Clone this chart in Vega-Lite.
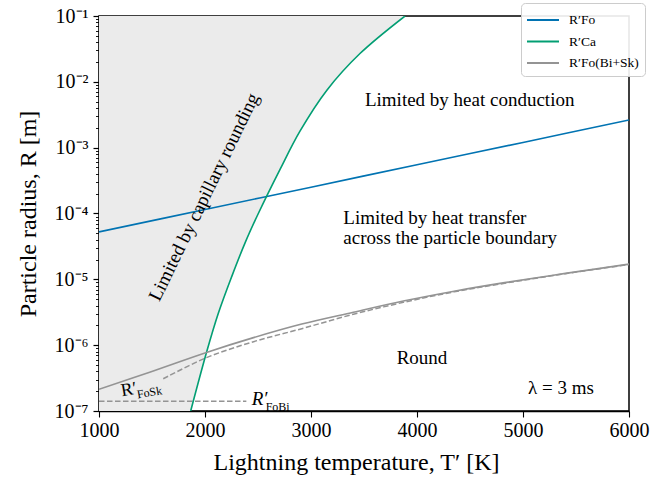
{
  "$schema": "https://vega.github.io/schema/vega-lite/v6.json",
  "width": 530,
  "height": 395,
  "autosize": {"type": "none"},
  "padding": {"left": 99, "top": 16, "right": 22, "bottom": 67},
  "background": "white",
  "config": {
    "font": "Liberation Serif",
    "view": {"stroke": "black", "strokeWidth": 1.5},
    "axis": {
      "grid": false,
      "domainColor": "black",
      "domainWidth": 1.5,
      "tickColor": "black",
      "tickWidth": 1.1,
      "labelColor": "black",
      "labelFont": "Liberation Serif",
      "labelFontSize": 20,
      "titleFont": "Liberation Serif",
      "titleFontSize": 24,
      "titleFontWeight": "normal",
      "titleColor": "black"
    },
    "text": {"font": "Liberation Serif", "fontSize": 19, "color": "black"}
  },
  "datasets": {
    "curves": [
      {"T": 1000, "R": 5.25e-5, "curve": "R′Fo"},
      {"T": 2000, "R": 1.15e-4, "curve": "R′Fo"},
      {"T": 3000, "R": 2.51e-4, "curve": "R′Fo"},
      {"T": 4000, "R": 5.50e-4, "curve": "R′Fo"},
      {"T": 5000, "R": 1.20e-3, "curve": "R′Fo"},
      {"T": 6000, "R": 2.63e-3, "curve": "R′Fo"},

      {"T": 1865, "R": 1.0e-7, "curve": "R′Ca"},
      {"T": 2016, "R": 7.94e-7, "curve": "R′Ca"},
      {"T": 2125, "R": 3.02e-6, "curve": "R′Ca"},
      {"T": 2252, "R": 1.10e-5, "curve": "R′Ca"},
      {"T": 2377, "R": 3.55e-5, "curve": "R′Ca"},
      {"T": 2503, "R": 1.0e-4, "curve": "R′Ca"},
      {"T": 2708, "R": 4.68e-4, "curve": "R′Ca"},
      {"T": 2896, "R": 1.78e-3, "curve": "R′Ca"},
      {"T": 3148, "R": 7.41e-3, "curve": "R′Ca"},
      {"T": 3462, "R": 2.69e-2, "curve": "R′Ca"},
      {"T": 3887, "R": 0.1, "curve": "R′Ca"},

      {"T": 1000, "R": 2.14e-7, "curve": "R′Fo(Bi+Sk)"},
      {"T": 1478, "R": 3.89e-7, "curve": "R′Fo(Bi+Sk)"},
      {"T": 2014, "R": 7.76e-7, "curve": "R′Fo(Bi+Sk)"},
      {"T": 2450, "R": 1.29e-6, "curve": "R′Fo(Bi+Sk)"},
      {"T": 2913, "R": 2.09e-6, "curve": "R′Fo(Bi+Sk)"},
      {"T": 3400, "R": 3.16e-6, "curve": "R′Fo(Bi+Sk)"},
      {"T": 3871, "R": 4.68e-6, "curve": "R′Fo(Bi+Sk)"},
      {"T": 4350, "R": 6.61e-6, "curve": "R′Fo(Bi+Sk)"},
      {"T": 4827, "R": 8.91e-6, "curve": "R′Fo(Bi+Sk)"},
      {"T": 5400, "R": 1.23e-5, "curve": "R′Fo(Bi+Sk)"},
      {"T": 6000, "R": 1.70e-5, "curve": "R′Fo(Bi+Sk)"},

      {"T": 1606, "R": 3.09e-7, "curve": "R′FoSk"},
      {"T": 2014, "R": 6.46e-7, "curve": "R′FoSk"},
      {"T": 2450, "R": 1.12e-6, "curve": "R′FoSk"},
      {"T": 2913, "R": 1.78e-6, "curve": "R′FoSk"},
      {"T": 3400, "R": 2.95e-6, "curve": "R′FoSk"},
      {"T": 3871, "R": 4.47e-6, "curve": "R′FoSk"},
      {"T": 4350, "R": 6.46e-6, "curve": "R′FoSk"},
      {"T": 4827, "R": 8.71e-6, "curve": "R′FoSk"},
      {"T": 5400, "R": 1.22e-5, "curve": "R′FoSk"},
      {"T": 6000, "R": 1.68e-5, "curve": "R′FoSk"},

      {"T": 1000, "R": 1.41e-7, "curve": "R′FoBi"},
      {"T": 2390, "R": 1.41e-7, "curve": "R′FoBi"}
    ],
    "notes": [
      {"T": 3509, "R": 5.3e-3, "text": "Limited by heat conduction"},
      {"T": 3305, "R": 8.5e-5, "text": "Limited by heat transfer"},
      {"T": 3305, "R": 4.2e-5, "text": "across the particle boundary"},
      {"T": 4047, "R": 6.4e-7, "text": "Round"},
      {"T": 5358, "R": 2.24e-7, "text": "λ = 3 ms"},
      {"T": 1991, "R": 1.78e-4, "text": "Limited by capillary rounding"}
    ],
    "curveLabels": [
      {"T": 2440, "R": 1.41e-7, "text": "R′", "sub": "FoBi"},
      {"T": 1217, "R": 1.68e-7, "text": "R′", "sub": "FoSk"}
    ]
  },
  "encoding": {
    "x": {
      "field": "T",
      "type": "quantitative",
      "scale": {"domain": [1000, 6000], "nice": false, "zero": false},
      "axis": {
        "title": "Lightning temperature, T′ [K]",
        "values": [1000, 2000, 3000, 4000, 5000, 6000],
        "format": "d",
        "tickSize": 6,
        "labelPadding": 3,
        "labelFlush": false,
        "titleX": 257,
        "titleY": 58,
        "titleBaseline": "alphabetic"
      }
    },
    "y": {
      "field": "R",
      "type": "quantitative",
      "scale": {"type": "log", "domain": [1e-7, 0.1], "nice": false},
      "axis": {
        "title": "Particle radius, R [m]",
        "values": [1e-7, 2e-7, 3e-7, 4e-7, 5e-7, 6e-7, 7e-7, 8e-7, 9e-7,
                   1e-6, 2e-6, 3e-6, 4e-6, 5e-6, 6e-6, 7e-6, 8e-6, 9e-6,
                   1e-5, 2e-5, 3e-5, 4e-5, 5e-5, 6e-5, 7e-5, 8e-5, 9e-5,
                   1e-4, 2e-4, 3e-4, 4e-4, 5e-4, 6e-4, 7e-4, 8e-4, 9e-4,
                   1e-3, 2e-3, 3e-3, 4e-3, 5e-3, 6e-3, 7e-3, 8e-3, 9e-3,
                   1e-2, 2e-2, 3e-2, 4e-2, 5e-2, 6e-2, 7e-2, 8e-2, 9e-2,
                   1e-1],
        "labelExpr": "abs(log(datum.value)/LN10 - round(log(datum.value)/LN10)) < 0.001 ? '10⁻' + ['⁰','¹','²','³','⁴','⁵','⁶','⁷','⁸','⁹'][-round(log(datum.value)/LN10)] : ''",
        "labelOverlap": false,
        "labelFlush": false,
        "labelPadding": 5,
        "tickSize": {"condition": {"test": "abs(log(datum.value)/LN10 - round(log(datum.value)/LN10)) < 0.001", "value": 6}, "value": 3.5},
        "tickWidth": {"condition": {"test": "abs(log(datum.value)/LN10 - round(log(datum.value)/LN10)) < 0.001", "value": 1.2}, "value": 0.9},
        "titleX": -64,
        "titleY": 197.5,
        "titleBaseline": "alphabetic"
      }
    }
  },
  "layer": [
    {
      "data": {"name": "curves"},
      "transform": [{"filter": "datum.curve === 'R′Ca'"}],
      "mark": {"type": "area", "orient": "horizontal", "color": "#ebebeb", "interpolate": "catmull-rom", "clip": true},
      "encoding": {
        "x2": {"datum": 1000}
      }
    },
    {
      "data": {"name": "curves"},
      "transform": [{"filter": "datum.curve === 'R′FoSk' || datum.curve === 'R′FoBi'"}],
      "mark": {"type": "line", "color": "#949494", "strokeWidth": 1.5, "strokeDash": [5.5, 2.5], "interpolate": "catmull-rom", "clip": true},
      "encoding": {
        "detail": {"field": "curve"}
      }
    },
    {
      "data": {"name": "curves"},
      "transform": [{"filter": "datum.curve === 'R′Fo' || datum.curve === 'R′Ca' || datum.curve === 'R′Fo(Bi+Sk)'"}],
      "mark": {"type": "line", "strokeWidth": 1.6, "interpolate": "catmull-rom", "clip": true},
      "encoding": {
        "color": {
          "field": "curve",
          "type": "nominal",
          "scale": {"domain": ["R′Fo", "R′Ca", "R′Fo(Bi+Sk)"], "range": ["#0173b2", "#029e73", "#949494"]},
          "legend": {
            "title": null,
            "orient": "none",
            "legendX": 422,
            "legendY": -13,
            "symbolType": "M-1.6,0H1.6",
            "symbolSize": 400,
            "symbolStrokeWidth": 2,
            "symbolOffset": 5,
            "labelFont": "Liberation Serif",
            "labelFontSize": 13.5,
            "labelColor": "black",
            "labelOffset": 15,
            "rowPadding": 3.5,
            "padding": 6,
            "strokeColor": "#cccccc",
            "fillColor": "rgba(255,255,255,0.9)",
            "cornerRadius": 4
          }
        }
      }
    },
    {
      "data": {"name": "notes"},
      "transform": [{"filter": {"field": "text", "oneOf": ["Limited by heat conduction", "Limited by heat transfer", "across the particle boundary"]}}],
      "mark": {"type": "text", "align": "left", "baseline": "middle"},
      "encoding": {"text": {"field": "text"}}
    },
    {
      "data": {"name": "notes"},
      "transform": [{"filter": {"field": "text", "oneOf": ["Round", "λ = 3 ms"]}}],
      "mark": {"type": "text", "align": "center", "baseline": "middle"},
      "encoding": {"text": {"field": "text"}}
    },
    {
      "data": {"name": "notes"},
      "transform": [{"filter": "datum.text === 'Limited by capillary rounding'"}],
      "mark": {"type": "text", "align": "center", "baseline": "middle", "angle": 296},
      "encoding": {"text": {"field": "text"}}
    },
    {
      "data": {"name": "curveLabels"},
      "transform": [{"filter": "datum.sub === 'FoBi'"}],
      "mark": {"type": "text", "align": "left", "baseline": "alphabetic", "fontSize": 19, "fontStyle": "italic", "dy": 3.5},
      "encoding": {"text": {"field": "text"}}
    },
    {
      "data": {"name": "curveLabels"},
      "transform": [{"filter": "datum.sub === 'FoBi'"}],
      "mark": {"type": "text", "align": "left", "baseline": "alphabetic", "fontSize": 12, "dx": 14, "dy": 9.5},
      "encoding": {"text": {"field": "sub"}}
    },
    {
      "data": {"name": "curveLabels"},
      "transform": [{"filter": "datum.sub === 'FoSk'"}],
      "mark": {"type": "text", "align": "left", "baseline": "alphabetic", "fontSize": 18, "angle": 350},
      "encoding": {"text": {"field": "text"}}
    },
    {
      "data": {"name": "curveLabels"},
      "transform": [{"filter": "datum.sub === 'FoSk'"}],
      "mark": {"type": "text", "align": "left", "baseline": "alphabetic", "fontSize": 12, "angle": 350, "dx": 15, "dy": 5},
      "encoding": {"text": {"field": "sub"}}
    }
  ]
}
